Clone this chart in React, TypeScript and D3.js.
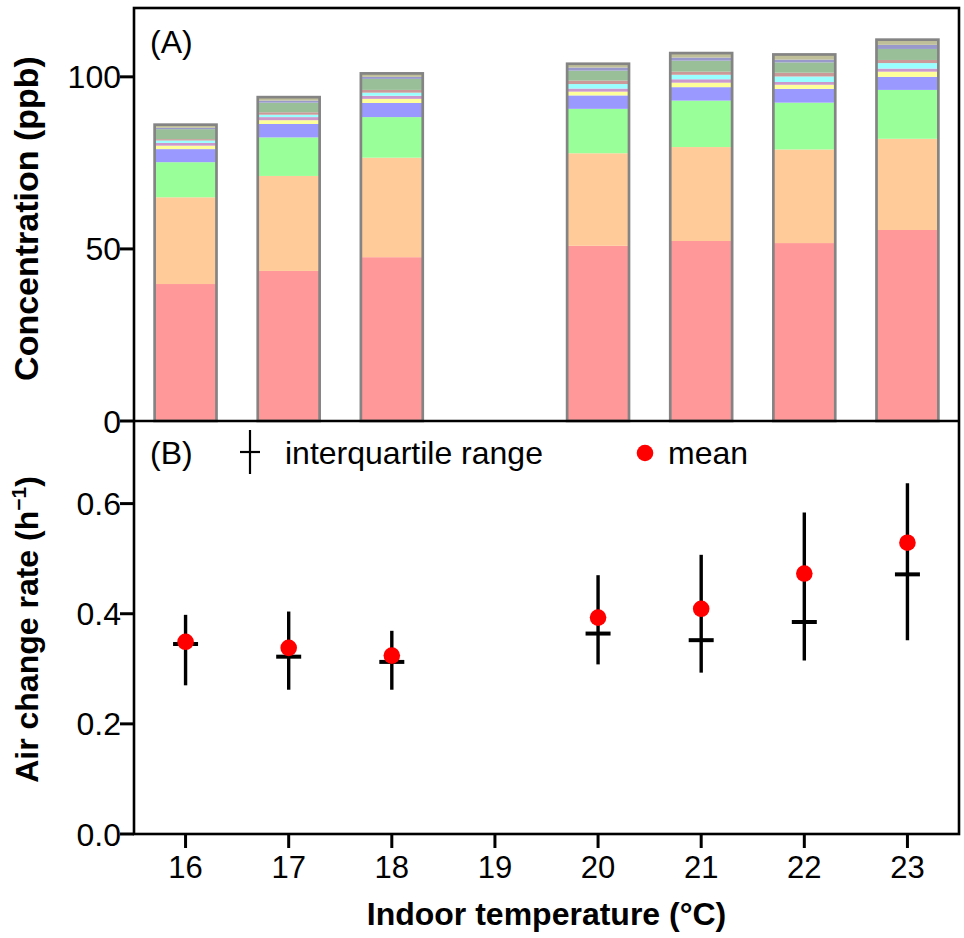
import React from 'react';
import * as d3 from 'd3';

// Panel A: stacked concentrations (ppb) per indoor temperature bin
const temps = [16, 17, 18, 20, 21, 22, 23];
const tickTemps = [16, 17, 18, 19, 20, 21, 22, 23];
const s1 = [39.8, 43.6, 47.6, 50.9, 52.3, 51.7, 55.5];
const s2 = [25.2, 27.6, 28.9, 26.9, 27.3, 27.2, 26.5];
const s3 = [10.2, 11.2, 11.8, 12.9, 13.5, 13.6, 14.2];
const s4 = [3.8, 3.9, 4.1, 3.9, 3.9, 4.0, 3.8];
const s5 = [1.0, 1.1, 1.2, 1.1, 1.3, 1.2, 1.5];
const s6 = [0.8, 0.9, 0.9, 0.9, 1.0, 0.8, 0.9];
const s7 = [0.7, 0.7, 0.9, 1.3, 1.3, 1.6, 1.6];
const s8 = [0.4, 0.7, 0.8, 1.0, 0.9, 1.1, 0.9];
const s9 = [2.9, 2.8, 3.2, 2.9, 3.2, 3.0, 3.2];
const s10 = [0.4, 0.6, 0.6, 0.9, 0.9, 0.8, 1.2];
const s11 = [0.9, 1.0, 1.0, 1.1, 1.3, 1.5, 1.5];
const seriesList = [s1, s2, s3, s4, s5, s6, s7, s8, s9, s10, s11];
const seriesColors = ['#ff9999', '#ffcc99', '#99ff99', '#9999ff', '#ffff99', '#cc99cc', '#99ffff', '#cc9999', '#99bf99', '#9999cc', '#bfbf99'];
const yTicksA = [0, 50, 100];

// Panel B: air change rate (h^-1)
const q1 = [0.270, 0.262, 0.262, 0.308, 0.293, 0.315, 0.352];
const q3 = [0.398, 0.404, 0.369, 0.470, 0.507, 0.584, 0.637];
const median = [0.345, 0.322, 0.3125, 0.364, 0.352, 0.385, 0.4715];
const mean = [0.349, 0.338, 0.324, 0.393, 0.409, 0.473, 0.529];
const yTicksB = [0, 0.2, 0.4, 0.6];

const FONT = 'Liberation Sans, Arial, Helvetica, sans-serif';

export default function App() {
  const W = 964, H = 938;
  const L = 134, R = 959, T = 8, M = 421, B = 834;
  const x = d3.scaleLinear().domain([15.5, 23.5]).range([L, R]);
  const yA = d3.scaleLinear().domain([0, 120]).range([M, T]);
  const yB = d3.scaleLinear().domain([0, 0.75]).range([B, M]);
  const keys = seriesList.map((_, k) => 'k' + k);
  const rows = temps.map((t, i) => {
    const r: any = { t };
    seriesList.forEach((s, k) => { r['k' + k] = s[i]; });
    return r;
  });
  const stacked = d3.stack<any>().keys(keys)(rows);
  const bw = x(16.3) - x(16);
  const tickLen = 14;
  const fsY = 32;
  const fsX = 31;
  const fsL = 32;

  return (
    <svg width={W} height={H} style={{ position: 'absolute', left: 0, top: 0, background: '#fff' }} fontFamily={FONT}>
      <rect x={0} y={0} width={W} height={H} fill="#fff" />
      {/* Panel A bars */}
      {stacked.map((layer, k) => (
        <g key={k} fill={seriesColors[k]}>
          {layer.map((d, i) => (
            <rect key={i} x={x(temps[i]) - bw} width={bw * 2} y={yA(d[1])} height={yA(d[0]) - yA(d[1])} />
          ))}
        </g>
      ))}
      {temps.map((t, i) => {
        const top = stacked[stacked.length - 1][i][1];
        return <rect key={'o' + i} x={x(t) - bw} width={bw * 2} y={yA(top)} height={yA(0) - yA(top)} fill="none" stroke="#848484" strokeWidth={2.7} />;
      })}

      {/* Panel B */}
      {temps.map((t, i) => (
        <g key={'b' + i}>
          <line x1={x(t)} x2={x(t)} y1={yB(q1[i])} y2={yB(q3[i])} stroke="#000" strokeWidth={3.4} />
          <line x1={x(t) - 12.5} x2={x(t) + 12.5} y1={yB(median[i])} y2={yB(median[i])} stroke="#000" strokeWidth={4} />
          <circle cx={x(t)} cy={yB(mean[i])} r={8.3} fill="#ff0000" />
        </g>
      ))}

      {/* Frames */}
      <rect x={L} y={T} width={R - L} height={B - T} fill="none" stroke="#000" strokeWidth={2.6} />
      <line x1={L} x2={R} y1={M} y2={M} stroke="#000" strokeWidth={2.6} />

      {/* Y axis A */}
      {yTicksA.map((v) => (
        <g key={'ya' + v}>
          <line x1={L - tickLen} x2={L} y1={yA(v)} y2={yA(v)} stroke="#000" strokeWidth={3} />
          <text x={L - 13} y={yA(v)} dy="0.36em" textAnchor="end" fontSize={fsY}>{v}</text>
        </g>
      ))}
      {/* Y axis B */}
      {yTicksB.map((v) => (
        <g key={'yb' + v}>
          <line x1={L - tickLen} x2={L} y1={yB(v)} y2={yB(v)} stroke="#000" strokeWidth={3} />
          <text x={L - 13} y={yB(v)} dy="0.36em" textAnchor="end" fontSize={fsY}>{d3.format('.1f')(v)}</text>
        </g>
      ))}
      {/* X axis */}
      {tickTemps.map((t) => (
        <g key={'x' + t}>
          <line x1={x(t)} x2={x(t)} y1={B} y2={B + tickLen} stroke="#000" strokeWidth={3} />
          <text x={x(t)} y={878} textAnchor="middle" fontSize={fsX}>{t}</text>
        </g>
      ))}

      {/* Axis titles */}
      <text x={(L + R) / 2} y={925} textAnchor="middle" fontSize={32} fontWeight="bold">Indoor temperature (°C)</text>
      <text transform={`translate(38,${(T + M) / 2 + 4}) rotate(-90)`} textAnchor="middle" fontSize={34} fontWeight="bold">Concentration (ppb)</text>
      <text transform={`translate(38,${(M + B) / 2 + 2}) rotate(-90)`} textAnchor="middle" fontSize={32} fontWeight="bold">
        Air change rate (h<tspan dy={-12} fontSize={21}>−1</tspan><tspan dy={12}>)</tspan>
      </text>

      {/* Panel labels and legend */}
      <text x={150} y={53} fontSize={fsL}>(A)</text>
      <text x={150} y={464} fontSize={fsL}>(B)</text>
      <line x1={250} x2={250} y1={430} y2={474} stroke="#000" strokeWidth={2.2} />
      <line x1={240} x2={260} y1={452} y2={452} stroke="#000" strokeWidth={2.2} />
      <text x={285} y={464} fontSize={fsL}>interquartile range</text>
      <circle cx={645} cy={453} r={8.3} fill="#ff0000" />
      <text x={668} y={464} fontSize={fsL}>mean</text>
    </svg>
  );
}
